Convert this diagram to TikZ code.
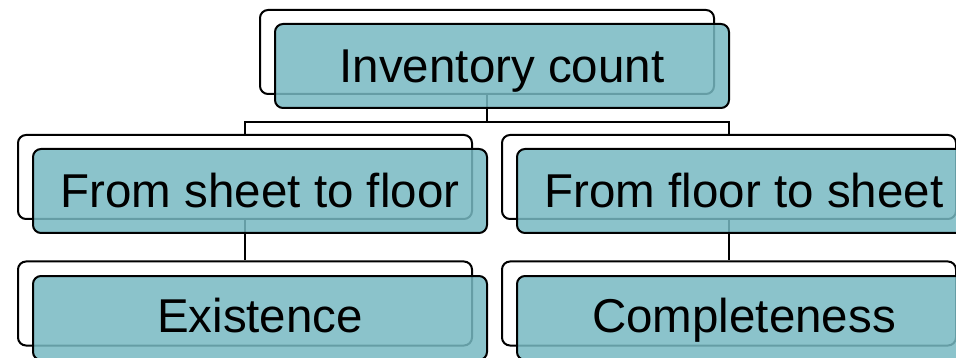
\documentclass[tikz,border=0pt]{standalone}
\usepackage{fontspec}
\setmainfont{Liberation Sans}
\definecolor{boxteal}{RGB}{119,185,194}
\begin{document}
\begin{tikzpicture}[x=1pt,y=-1pt,
  backbox/.style={draw=black, line width=2pt, fill=white, rounded corners=8pt,
    minimum width=454pt, minimum height=84pt, inner sep=0pt},
  frontbox/.style={draw=black, line width=2pt, fill=boxteal, fill opacity=0.85,
    text opacity=1, rounded corners=8pt, minimum width=454pt, minimum height=84pt,
    inner sep=0pt, text height=34pt, text depth=0pt,
    font=\fontsize{47.5}{50}\selectfont},
  link/.style={draw=black, line width=2pt}]
\useasboundingbox (0,0) rectangle (956,358);
\clip (0,0) rectangle (956,358);

% back (white) cards
\node[backbox] (inv-b) at (487,52) {};
\node[backbox] (sf-b)  at (245,177) {};
\node[backbox] (fs-b)  at (729,177) {};
\node[backbox] (ex-b)  at (245,303.5) {};
\node[backbox] (co-b)  at (729,303.5) {};

% tree connectors
\draw[link] (inv-b.south) -- ++(0,27) -| (sf-b.north);
\draw[link] (inv-b.south) -- ++(0,27) -| (fs-b.north);
\draw[link] (sf-b.south) -- (ex-b.north);
\draw[link] (fs-b.south) -- (co-b.north);

% front (teal) cards with the labels
\node[frontbox] (inv) at (502,66) {Inventory count};
\node[frontbox] (sf)  at (260,191) {From sheet to floor};
\node[frontbox] (fs)  at (744,191) {From floor to sheet};
\node[frontbox, text depth=5pt] (ex) at (260,318) {Existence};
\node[frontbox, text depth=5pt] (co) at (744,318) {Completeness};
\end{tikzpicture}
\end{document}
